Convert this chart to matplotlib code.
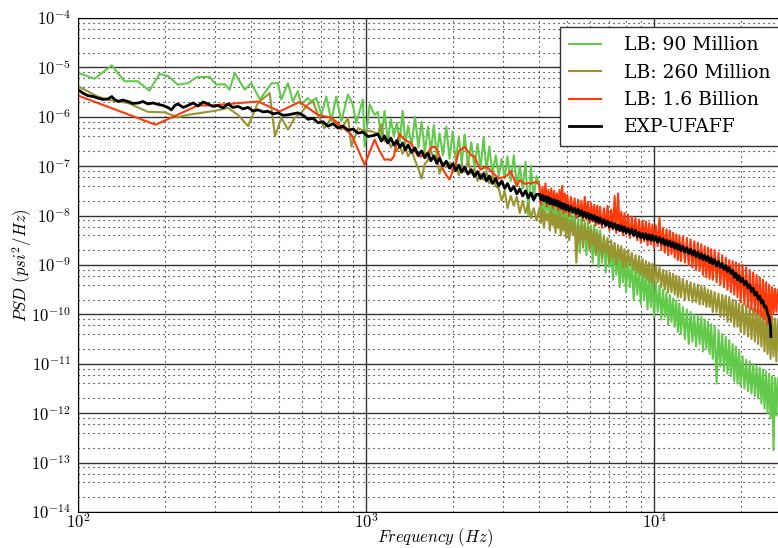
import numpy as np
import matplotlib
matplotlib.use("Agg")
from matplotlib import pyplot as plt
from matplotlib.ticker import LogLocator, FuncFormatter, NullFormatter

plt.rcParams['mathtext.fontset'] = 'cm'
plt.rcParams['font.family'] = ['DejaVu Serif']

# frequency grids (Hz) for the dense part of the spectra
freq_mid = [1100, 1130, 1160, 1190, 1220, 1250, 1280, 1310, 1340, 1370,
            1400, 1440, 1480, 1520, 1560, 1600, 1640, 1680, 1720, 1760,
            1800, 1850, 1900, 1950, 2000, 2050, 2100, 2150, 2200, 2260,
            2320, 2380, 2440, 2500, 2560, 2620, 2680, 2750, 2820, 2890,
            2960, 3030, 3100, 3180, 3260, 3340, 3420, 3500, 3580, 3660,
            3740, 3820, 3910]
freq_high = [4000, 4050, 4100, 4150, 4200, 4250, 4300, 4350, 4400, 4450,
             4500, 4550, 4600, 4650, 4700, 4750, 4800, 4850, 4900, 4950,
             5000, 5075, 5150, 5225, 5300, 5375, 5450, 5525, 5600, 5675,
             5750, 5825, 5900, 5975, 6050, 6125, 6200, 6275, 6350, 6425,
             6500, 6600, 6700, 6800, 6900, 7000, 7100, 7200, 7300, 7400,
             7500, 7600, 7700, 7800, 7900,
             8000, 8125, 8250, 8375, 8500, 8625, 8750, 8875, 9000, 9125,
             9250, 9375, 9500, 9625, 9750, 9875,
             10000, 10150, 10300, 10450, 10600, 10750, 10900, 11050, 11200, 11350,
             11500, 11650, 11800, 11950, 12100, 12250,
             12400, 12600, 12800, 13000, 13200, 13400, 13600, 13800, 14000, 14200,
             14400, 14600, 14800, 15000, 15200, 15400, 15600, 15800,
             16000, 16250, 16500, 16750, 17000, 17250, 17500, 17750, 18000, 18250,
             18500, 18750, 19000, 19250, 19500, 19750,
             20000, 20300, 20600, 20900, 21200, 21500, 21800, 22100, 22400, 22700,
             23000, 23300, 23600, 23900, 24200, 24500, 24800, 25100, 25400, 25700,
             26000, 26300, 26600, 26900]

# all PSD values below are log10(psi^2/Hz)
# LB: 90 Million
green_f_low = [100, 114, 131, 145, 161, 177, 192, 206, 222, 241,
               258, 286, 302, 323, 336, 350, 379, 400, 428, 470,
               495, 508, 536, 557, 580, 595, 628, 646, 672, 700,
               728, 758, 788, 821, 866, 900, 925, 975, 989, 1030, 1072]
green_low = [-5.11, -5.23, -4.96, -5.28, -5.28, -5.47, -5.13, -5.18, -5.35, -5.32,
             -5.20, -5.19, -5.35, -5.34, -5.45, -5.11, -5.45, -5.32, -5.65, -5.32,
             -5.32, -5.65, -5.32, -5.69, -5.48, -5.75, -5.62, -5.69, -5.62, -5.96,
             -5.59, -6.09, -5.59, -6.09, -5.55, -5.75, -6.13, -5.65, -6.60, -5.75, -5.96]
green_mid = [-5.90, -6.45, -5.88, -6.50, -6.05, -6.40, -6.12, -6.50, -5.88, -6.55,
             -6.18, -6.58, -6.00, -6.62, -6.10, -6.72, -6.20, -6.70, -6.17, -6.80,
             -6.33, -6.78, -6.20, -6.85, -6.30, -6.90, -6.40, -6.95, -6.36, -7.00,
             -6.52, -7.02, -6.55, -7.05, -6.42, -7.10, -6.60, -7.15, -6.78, -7.20,
             -6.85, -7.25, -6.80, -7.30, -6.78, -7.40, -7.00, -7.45, -6.91, -8.00,
             -7.00, -7.65, -7.20]
green_high = [-7.40, -7.95, -7.55, -8.05, -7.48, -7.90, -7.62, -8.15, -7.55, -8.00,
              -7.70, -8.25, -7.60, -8.10, -7.72, -8.35, -7.68, -8.20, -7.80, -8.40,
              -7.85, -8.45, -7.92, -8.30, -7.95, -8.60, -8.05, -8.75, -8.00, -8.55,
              -8.12, -8.80, -8.10, -8.65, -8.20, -8.95, -8.18, -8.75, -8.28, -9.05,
              -8.30, -8.95, -8.40, -9.15, -8.45, -9.05, -8.55, -9.30, -8.60, -9.20,
              -8.70, -9.45, -8.72, -9.35, -8.82,
              -9.55, -8.88, -9.45, -8.95, -9.70, -9.00, -9.60, -9.05, -9.80, -9.10,
              -9.70, -9.15, -9.90, -9.20, -9.85, -9.25,
              -10.05, -9.35, -9.95, -9.42, -10.10, -9.50, -10.05, -9.55, -10.20, -9.60,
              -10.15, -9.68, -10.25, -9.72, -10.35, -9.78,
              -10.40, -9.85, -10.50, -9.90, -10.60, -9.95, -10.55, -10.00, -10.65, -10.02,
              -10.60, -10.05, -10.75, -10.10, -10.70, -10.15, -10.80, -10.20,
              -10.90, -10.25, -11.40, -10.32, -11.05, -10.40, -11.15, -10.45, -11.20, -10.52,
              -11.25, -10.60, -11.35, -10.65, -11.40, -10.75,
              -11.45, -10.85, -11.50, -10.92, -11.55, -10.95, -11.60, -11.00, -11.65, -11.05,
              -11.70, -11.08, -11.80, -11.12, -11.90, -11.15, -12.00, -11.20, -12.10, -11.25,
              -12.75, -11.28, -12.05, -11.30]

# LB: 260 Million
olive_f_low = [100, 117, 131, 149, 175, 200, 222, 241, 268, 298,
               332, 359, 390, 421, 463, 483, 508, 536, 566, 595,
               628, 655, 681, 718, 758, 821, 866, 890, 938, 989, 1043]
olive_low = [-5.38, -5.59, -5.67, -5.72, -5.90, -5.91, -6.01, -5.96, -5.92, -5.88,
             -5.82, -5.96, -6.19, -5.72, -5.52, -6.40, -6.02, -6.26, -6.02, -5.92,
             -5.75, -5.69, -5.96, -6.23, -6.02, -6.26, -6.02, -6.60, -6.23, -6.29, -6.29]
olive_mid = [-6.35, -6.15, -6.50, -6.42, -6.62, -6.52, -6.70, -6.58, -6.75, -6.62,
             -6.80, -6.68, -6.88, -7.05, -7.25, -6.95, -6.88, -6.68, -6.85, -6.80,
             -7.15, -6.95, -7.02, -6.92, -7.12, -6.92, -7.18, -6.95, -7.12, -6.90,
             -7.15, -7.05, -7.30, -7.15, -7.28, -7.12, -7.35, -7.18, -7.40, -7.45,
             -7.70, -7.50, -7.85, -7.60, -7.80, -7.62, -7.95, -7.70, -7.95, -7.75,
             -8.05, -7.85, -8.10]
olive_high = [-7.85, -8.15, -7.88, -8.25, -7.92, -8.10, -7.95, -8.30, -7.90, -8.20,
              -7.98, -8.35, -8.00, -8.25, -7.95, -8.40, -8.02, -8.30, -8.05, -8.45,
              -8.05, -8.50, -8.10, -8.40, -8.12, -8.95, -8.15, -8.55, -8.20, -8.65,
              -8.18, -8.50, -8.25, -8.70, -8.28, -8.60, -8.30, -8.80, -8.35, -8.70,
              -8.38, -8.85, -8.42, -8.75, -8.48, -8.95, -8.50, -8.85, -8.55, -9.00,
              -8.60, -8.90, -8.62, -9.05, -8.68,
              -9.05, -8.70, -9.00, -8.75, -9.10, -8.80, -9.15, -8.82, -9.20, -8.88,
              -9.25, -8.92, -9.30, -8.95, -9.35, -8.98,
              -9.40, -9.00, -9.35, -9.05, -9.45, -9.10, -9.50, -9.12, -9.55, -9.15,
              -9.55, -9.18, -9.60, -9.22, -9.65, -9.25,
              -9.65, -9.28, -9.70, -9.32, -9.70, -9.35, -9.75, -9.38, -9.75, -9.40,
              -9.80, -9.42, -9.80, -9.45, -9.85, -9.50, -9.85, -9.52,
              -9.95, -9.55, -9.95, -9.58, -10.05, -9.60, -10.05, -9.62, -10.15, -9.65,
              -10.15, -9.70, -10.25, -9.72, -10.25, -9.78,
              -10.35, -9.80, -10.40, -9.82, -10.45, -9.85, -10.50, -9.88, -10.55, -9.90,
              -10.60, -9.92, -10.65, -9.95, -10.75, -10.00, -10.80, -10.00, -10.90, -10.05,
              -10.85, -10.08, -10.95, -10.10]

# LB: 1.6 Billion
red_f_low = [100, 186, 261, 290, 421, 502, 588, 681, 758, 890, 989, 1072]
red_low = [-5.57, -6.16, -5.77, -5.77, -5.69, -5.89, -5.70, -5.96, -6.02, -6.36, -6.97, -6.46]
red_mid = [-6.62, -6.75, -6.87, -6.86, -6.88, -6.80, -6.50, -6.35, -6.42, -6.48,
           -6.50, -6.55, -6.70, -6.80, -6.80, -6.76, -6.72, -6.63, -6.60, -6.65,
           -6.80, -7.06, -7.18, -7.27, -7.10, -6.95, -6.70, -6.65, -6.61, -6.70,
           -6.78, -6.80, -6.95, -7.07, -7.04, -7.01, -7.06, -7.13, -7.19, -7.25,
           -7.23, -7.22, -7.18, -7.10, -7.25, -7.40, -7.28, -7.33, -7.36, -7.34,
           -7.35, -7.33, -7.32]
red_high = [-7.38, -7.78, -7.42, -7.70, -7.35, -7.82, -7.48, -7.75, -7.45, -7.85,
            -7.50, -7.80, -7.55, -7.90, -7.48, -7.88, -7.40, -7.95, -7.55, -7.92,
            -7.58, -8.00, -7.62, -7.95, -7.65, -8.05, -7.68, -8.00, -7.70, -8.10,
            -7.62, -8.08, -7.72, -8.15, -7.75, -8.12, -7.78, -8.20, -7.80, -8.18,
            -7.82, -8.25, -7.85, -8.22, -7.80, -8.30, -7.88, -8.28, -7.60, -8.35,
            -7.55, -8.32, -7.92, -8.40, -7.95,
            -8.38, -7.98, -8.45, -8.02, -8.42, -8.05, -8.50, -8.08, -8.55, -8.10,
            -8.52, -8.12, -8.60, -8.15, -8.58, -8.18,
            -8.65, -8.20, -8.62, -8.05, -8.70, -8.25, -8.75, -8.28, -8.80, -8.30,
            -8.78, -8.35, -8.85, -8.38, -8.90, -8.40,
            -8.92, -8.42, -8.95, -8.45, -9.00, -8.48, -9.05, -8.52, -9.10, -8.55,
            -9.12, -8.58, -9.20, -8.62, -9.25, -8.65, -9.28, -8.68,
            -9.30, -8.70, -9.35, -8.75, -9.40, -8.80, -9.45, -8.85, -9.50, -8.90,
            -9.55, -8.92, -9.60, -8.95, -9.65, -8.98,
            -9.75, -9.00, -9.80, -9.05, -9.85, -9.10, -9.90, -9.15, -9.95, -9.20,
            -10.00, -9.25, -10.05, -9.30, -10.10, -9.35, -10.20, -9.40, -10.15, -9.45,
            -10.00, -9.48, -9.95, -9.50]

# EXP-UFAFF
black_f_low = [100, 104, 108, 113, 117, 122, 127, 131, 134, 138,
               143, 149, 155, 162, 168, 175, 182, 190, 197, 205,
               211, 217, 222, 232, 241, 251, 261, 272, 283, 294,
               306, 319, 332, 345, 360, 374, 389, 405, 422, 439,
               457, 476, 495, 515, 536, 558, 581, 605, 629, 655,
               681, 709, 738, 768, 800, 832, 866, 902, 938, 977, 1016, 1058]
black_low = [-5.45, -5.52, -5.57, -5.59, -5.62, -5.65, -5.64, -5.59, -5.65, -5.69,
             -5.66, -5.69, -5.73, -5.72, -5.69, -5.74, -5.72, -5.75, -5.77, -5.81,
             -5.86, -5.77, -5.74, -5.81, -5.77, -5.72, -5.78, -5.70, -5.74, -5.79,
             -5.77, -5.82, -5.74, -5.81, -5.79, -5.84, -5.81, -5.88, -5.86, -5.90,
             -5.89, -5.94, -5.92, -5.97, -5.96, -5.94, -5.92, -5.97, -6.05, -6.03,
             -6.12, -6.10, -6.19, -6.14, -6.23, -6.19, -6.27, -6.25, -6.33, -6.31, -6.40, -6.38]
black_mid = [-6.35, -6.49, -6.39, -6.53, -6.43, -6.57, -6.48, -6.62, -6.53, -6.67,
             -6.57, -6.72, -6.63, -6.78, -6.69, -6.83, -6.74, -6.89, -6.79, -6.94,
             -6.84, -6.99, -6.90, -7.04, -6.95, -7.09, -6.98, -7.12, -7.02, -7.16,
             -7.07, -7.21, -7.11, -7.25, -7.15, -7.30, -7.20, -7.35, -7.25, -7.40,
             -7.30, -7.45, -7.35, -7.50, -7.41, -7.56, -7.46, -7.60, -7.50, -7.64,
             -7.54, -7.68, -7.57]
black_f_tail = [25460]
black_high = [-7.57, -7.68, -7.59, -7.70, -7.61, -7.73, -7.63, -7.76, -7.66, -7.77,
              -7.68, -7.79, -7.70, -7.81, -7.72, -7.84, -7.75, -7.86, -7.77, -7.88,
              -7.79, -7.91, -7.82, -7.93, -7.85, -7.96, -7.87, -7.99, -7.90, -8.02,
              -7.93, -8.04, -7.95, -8.07, -7.98, -8.09, -8.00, -8.12, -8.03, -8.14,
              -8.05, -8.17, -8.08, -8.20, -8.11, -8.23, -8.14, -8.25, -8.16, -8.28,
              -8.19, -8.30, -8.21, -8.32, -8.23,
              -8.35, -8.26, -8.37, -8.27, -8.40, -8.30, -8.43, -8.34, -8.45, -8.36,
              -8.47, -8.37, -8.48, -8.39, -8.50, -8.40,
              -8.51, -8.42, -8.54, -8.44, -8.56, -8.47, -8.59, -8.50, -8.61, -8.52,
              -8.63, -8.54, -8.66, -8.57, -8.68, -8.59,
              -8.71, -8.62, -8.74, -8.65, -8.77, -8.68, -8.80, -8.71, -8.83, -8.74,
              -8.86, -8.77, -8.89, -8.80, -8.91, -8.83, -8.95, -8.86,
              -8.98, -8.89, -9.02, -8.93, -9.05, -8.97, -9.09, -9.01, -9.13, -9.05,
              -9.17, -9.11, -9.25, -9.17, -9.30, -9.22,
              -9.34, -9.27, -9.40, -9.33, -9.46, -9.40, -9.54, -9.47, -9.61, -9.55,
              -9.69, -9.63, -9.77, -9.72, -9.86, -9.84, -9.98, -10.06, -10.25,
              -10.45]

labels = ["LB: 90 Million", "LB: 260 Million", "LB: 1.6 Billion", "EXP-UFAFF"]
colors = ["#62c94a", "#999430", "#ff3a0a", "black"]

n_black = len(black_high) - len(black_f_tail)
series = [
    (green_f_low + freq_mid + freq_high, green_low + green_mid + green_high),
    (olive_f_low + freq_mid + freq_high, olive_low + olive_mid + olive_high),
    (red_f_low + freq_mid + freq_high, red_low + red_mid + red_high),
    (black_f_low + freq_mid + freq_high[:n_black] + black_f_tail,
     black_low + black_mid + black_high),
]

fig = plt.figure(figsize=(7.78, 5.48), dpi=100)
# axes run a little past the right edge of the picture, as in the original
ax = fig.add_axes([78 / 778, 36 / 548, 713.4 / 778, 494 / 548])

for (f, p), lab, c in zip(series, labels, colors):
    lw = 2.0 if c == "black" else 1.5
    ax.plot(f, 10.0 ** np.array(p), color=c, lw=lw, label=lab)

ax.set_xscale("log")
ax.set_yscale("log")
ax.set_xlim(100, 30000)
ax.set_ylim(1e-14, 1e-4)

ax.yaxis.set_major_locator(LogLocator(base=10, numticks=20))
ax.yaxis.set_minor_locator(LogLocator(base=10, subs=(2, 4, 6, 8), numticks=20))
ax.xaxis.set_minor_locator(LogLocator(base=10, subs=np.arange(2, 10), numticks=20))
fmt = FuncFormatter(lambda v, pos: r"$10^{%d}$" % int(round(np.log10(v))))
ax.xaxis.set_major_formatter(fmt)
ax.yaxis.set_major_formatter(fmt)
ax.xaxis.set_minor_formatter(NullFormatter())
ax.yaxis.set_minor_formatter(NullFormatter())
ax.tick_params(which="both", direction="in", labelsize=12, length=0)
ax.tick_params(which="minor", labelbottom=False, labelleft=False)
ax.tick_params(axis="x", pad=1)
ax.tick_params(axis="y", pad=5)

ax.grid(True, which="major", color="0.2", ls="-", lw=1.0)
ax.grid(True, which="minor", color="black", ls=(0, (1, 3.5)), lw=0.8)
ax.set_axisbelow(True)

ax.set_xlabel(r"$Frequency\ (Hz)$", fontsize=12)
ax.xaxis.set_label_coords(0.5, -14 / 494)
ax.set_ylabel(r"$PSD\ (psi^2/Hz)$", fontsize=12, labelpad=-2)

leg = ax.legend(loc="upper left", bbox_to_anchor=(560 / 778, 1 - 27 / 548),
                bbox_transform=fig.transFigure, borderaxespad=0,
                prop={"family": "DejaVu Serif", "size": 13.5},
                fancybox=False, framealpha=1, edgecolor="0.2",
                labelspacing=0.5, handlelength=1.7, handletextpad=1.2, borderpad=0.5)
leg.get_frame().set_linewidth(1.0)

fig.savefig("out.png", dpi=100)
